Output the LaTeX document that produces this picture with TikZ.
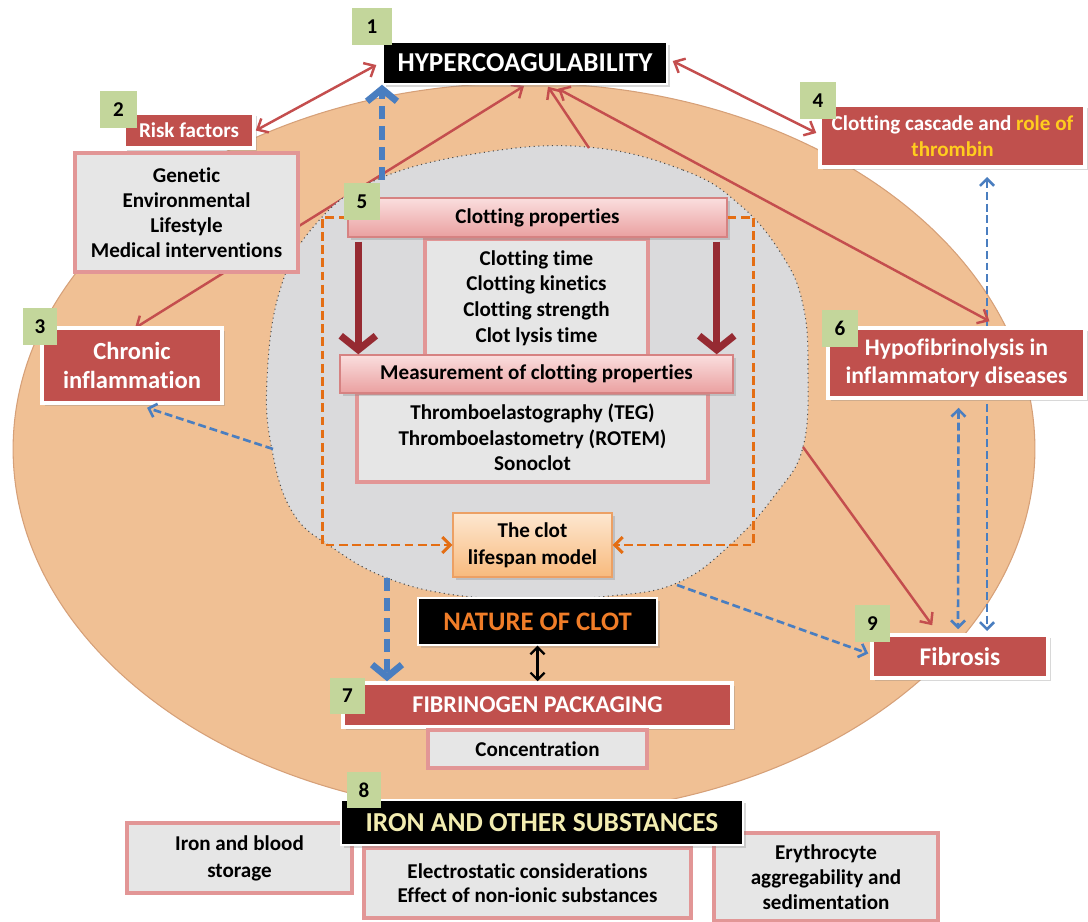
\documentclass[tikz,border=0pt]{standalone}
\usepackage{fontspec}
\setmainfont{Carlito}[Ligatures=NoCommon]
\usetikzlibrary{arrows.meta,calc,shadows,shapes.geometric}
\definecolor{peach}{RGB}{240,192,148}
\definecolor{peachedge}{RGB}{214,160,120}
\definecolor{innergrey}{RGB}{218,218,220}
\definecolor{boxred}{RGB}{192,80,77}
\definecolor{numgreen}{RGB}{195,214,155}
\definecolor{boxgrey}{RGB}{230,230,230}
\definecolor{pinkborder}{RGB}{226,150,150}
\definecolor{pinktop}{RGB}{250,222,222}
\definecolor{pinkbot}{RGB}{234,160,160}
\definecolor{pinkdraw}{RGB}{214,130,130}
\definecolor{lifetop}{RGB}{253,231,208}
\definecolor{lifebot}{RGB}{248,186,125}
\definecolor{lifedraw}{RGB}{236,160,100}
\definecolor{arrred}{RGB}{196,78,78}
\definecolor{darkred}{RGB}{150,42,50}
\definecolor{arrblue}{RGB}{74,126,192}
\definecolor{arrorange}{RGB}{228,110,20}
\definecolor{clotorange}{RGB}{240,125,40}
\definecolor{thrombin}{RGB}{255,205,30}
\definecolor{ironyellow}{RGB}{242,236,176}
\newcommand\fsz[2]{\fontsize{#1}{#2}\selectfont\bfseries}
\begin{document}
\begin{tikzpicture}[x=0.02cm,y=-0.02cm,
  sz/.style 2 args={minimum width=#1*0.02cm, minimum height=#2*0.02cm},
  num/.style={fill=numgreen, inner sep=0pt, font=\fsz{12}{14}, text=black},
  redbox/.style={fill=boxred, draw=white, line width=2pt, text=white, align=center, inner sep=0pt,
     drop shadow={opacity=0.3, shadow xshift=1.5pt, shadow yshift=-1.5pt}},
  blackbox/.style={fill=black, draw=white, line width=0.8pt, align=center, inner sep=0pt,
     drop shadow={opacity=0.3, shadow xshift=1.5pt, shadow yshift=-1.5pt}},
  greybox/.style={fill=boxgrey, draw=pinkborder, line width=2pt, align=center, inner sep=0pt, text=black,
     font=\fsz{12}{14.3}},
  pinkbar/.style={top color=pinktop, bottom color=pinkbot, draw=pinkdraw, line width=0.8pt, align=center,
     inner sep=0pt, text=black, font=\fsz{12}{14},
     drop shadow={opacity=0.3, shadow xshift=1.5pt, shadow yshift=-1.5pt}},
  redarr/.style={draw=arrred, line width=1.4pt, {Straight Barb[length=5pt,width=9pt]}-{Straight Barb[length=5pt,width=9pt]}},
  redone/.style={draw=arrred, line width=1.4pt, -{Straight Barb[length=5pt,width=9pt]}},
  bluedash/.style={draw=arrblue, line width=1.5pt, dash pattern=on 4.5pt off 2.2pt},
  btip/.style={-{Straight Barb[length=4pt,width=8pt]}},
  btips/.style={{Straight Barb[length=4pt,width=8pt]}-{Straight Barb[length=4pt,width=8pt]}},
  bigblue/.style={draw=arrblue, line width=3.8pt, dash pattern=on 7.5pt off 4pt,
     -{Straight Barb[length=7pt,width=17pt]}},
  darkarr/.style={draw=darkred, line width=4pt, -{Straight Barb[length=8pt,width=20pt]}},
  orangedash/.style={draw=arrorange, line width=1.7pt, dash pattern=on 5pt off 2.5pt,
     -{Straight Barb[length=4.5pt,width=9pt]}}
]
% canvas
\fill[white] (0,0) rectangle (1088,922);
\useasboundingbox (0,0) rectangle (1088,922);
% outer orange ellipse
\filldraw[fill=peach, draw=peachedge, line width=0.6pt] (524,449) ellipse [x radius=10.22cm, y radius=7.32cm];

% connectors lying behind boxes
\draw[redarr] (524,86) -- (135,328);
\draw[bluedash,btips] (987,177) -- (987,631);

% inner grey shape
\coordinate (gtop) at (589,148);
\coordinate (gup) at (382,180);
\coordinate (gdown) at (387,578);
\coordinate (gleft) at (273,449);
\coordinate (gright) at (803,447);
\coordinate (gbr) at (677,585);
\filldraw[fill=innergrey, draw=black!70, line width=0.6pt, dotted]
  plot[smooth cycle, tension=0.7] coordinates {(587,147) (683,170) (740,205) (782,255) (803,305) (808,370)
  (803,447) (775,495) (730,545) (677,583) (610,596) (533,599) (455,595) (387,578) (333,548) (293,513)
  (272,450) (267,380) (280,290) (315,225) (376,180) (480,153)};

% left / top boxes
\node[blackbox, sz={284}{42}, text=white, font=\fsz{15.5}{18}] (hyper) at (525,63) {HYPERCOAGULABILITY};
\node[redbox, sz={130}{35}, font=\fsz{12}{14}] (risk) at (189,130.5) {Risk factors};
\node[greybox, sz={223}{119}] (genetic) at (186.5,212.5) {Genetic\\Environmental\\Lifestyle\\Medical interventions};
\node[redbox, sz={180}{75}, font=\fsz{14}{16.4}] (chronic) at (132,365.5) {Chronic\\inflammation};
\node[redbox, sz={265}{62}, font=\fsz{12}{14.8}] (cascade) at (952.5,136) {Clotting cascade and \textcolor{thrombin}{role of}\\\textcolor{thrombin}{thrombin}};
\node[redbox, sz={257}{70}, font=\fsz{13.5}{16.4}] (hypo) at (956.5,363) {Hypofibrinolysis in\\inflammatory diseases};
\node[redbox, sz={176}{43}, font=\fsz{14.5}{16}] (fibrosis) at (960,656.5) {Fibrosis};

% central block
\node[greybox, sz={223}{118}, font=\fsz{12}{14.6}] (params) at (536.5,298) {Clotting time\\Clotting kinetics\\Clotting strength\\Clot lysis time};
\node[greybox, sz={351}{89}, font=\fsz{12}{14.5}] (methods) at (532.5,437.5) {Thromboelastography (TEG)\\Thromboelastometry (ROTEM)\\Sonoclot};
\node[pinkbar, sz={379}{39}] (props) at (537.5,217.5) {Clotting properties};
\node[pinkbar, sz={393}{38}] (meas) at (536.5,374) {Measurement of clotting properties};
\node[top color=lifetop, bottom color=lifebot, draw=lifedraw, line width=0.8pt, align=center, inner sep=0pt,
  font=\fsz{12}{15.5}, sz={159}{64}, drop shadow={opacity=0.3, shadow xshift=1.5pt, shadow yshift=-1.5pt}]
  (lifespan) at (532.5,545) {The clot\\lifespan model};

\draw[darkarr] ($(props.south west)+(11,4)$) -- ($(meas.north west)+(19,0)$);
\draw[darkarr] ($(props.south east)+(-11,4)$) -- ($(meas.north east)+(-17,0)$);
\draw[orangedash] (props.west) -- ++(-25,0) |- (lifespan.west);
\draw[orangedash] (props.east) -- ++(26,0) |- (lifespan.east);

% lower block
\node[blackbox, sz={239}{47}, text=clotorange, font=\fsz{15.2}{18}] (nature) at (537.5,621.5) {NATURE OF CLOT};
\node[redbox, sz={389}{44}, font=\fsz{13.7}{16}] (fib) at (537.5,705) {FIBRINOGEN PACKAGING};
\node[greybox, sz={219}{38}] (conc) at (537.5,749) {Concentration};
\node[greybox, sz={225}{70}, font=\fsz{12}{15.3}] (ironblood) at (239.5,858) {Iron and blood\\storage};
\node[greybox, sz={327}{70}, font=\fsz{12}{14}] (electro) at (527.5,883) {Electrostatic considerations\\Effect of non-ionic substances};
\node[greybox, sz={224}{88}, font=\fsz{12}{14.2}] (erythro) at (826,877) {Erythrocyte\\aggregability and\\sedimentation};
\node[blackbox, sz={402}{45}, text=ironyellow, font=\fsz{15.6}{18}] (iron) at (542,822.5) {IRON AND OTHER SUBSTANCES};

% number tags
\node[num, sz={40}{37}] (n1) at (372,26.5) {1};
\node[num, sz={37}{37}] (n2) at (118.5,109.5) {2};
\node[num, sz={34}{37}] (n3) at (40,326.5) {3};
\node[num, sz={36}{37}] (n4) at (818,100.5) {4};
\node[num, sz={36}{37}] (n5) at (362,201.5) {5};
\node[num, sz={36}{37}] (n6) at (840,328.5) {6};
\node[num, sz={35}{36}] (n7) at (347.5,696) {7};
\node[num, sz={34}{36}] (n8) at (364,790) {8};
\node[num, sz={35}{37}] (n9) at (872.5,623.5) {9};

% connectors
\draw[redarr] (risk.east) -- ($(hyper.west)+(-6,2)$);
\draw[redarr] ($(hyper.east)+(5,-2)$) -- ($(cascade.west)+(-2,-3)$);
\draw[redarr] ($(hyper.south)+(33,4)$) -- ($(hypo.north)+(33,-5)$);
\draw[redone] (gtop) -- ($(hyper.south)+(23,2)$);
\draw[redone] (gright) -- ($(fibrosis.north west)+(62,-8)$);
\draw[bluedash,btip] (gleft) -- ($(chronic.south)+(15,3)$);
\draw[bluedash,btip] (gbr) -- ($(fibrosis.west)+(-2,-3)$);
\draw[bluedash,btips] ($(hypo.south)+(2,8)$) -- ($(fibrosis.north)+(-2,-4)$);
\draw[bigblue] (gup) -- (gup |- hyper.south);
\draw[bigblue] (gdown) -- (gdown |- fib.north);
\draw[black, line width=1.3pt, {Straight Barb[length=4pt,width=8pt]}-{Straight Barb[length=4pt,width=8pt]}] (nature.south) -- (fib.north);
\end{tikzpicture}
\end{document}
